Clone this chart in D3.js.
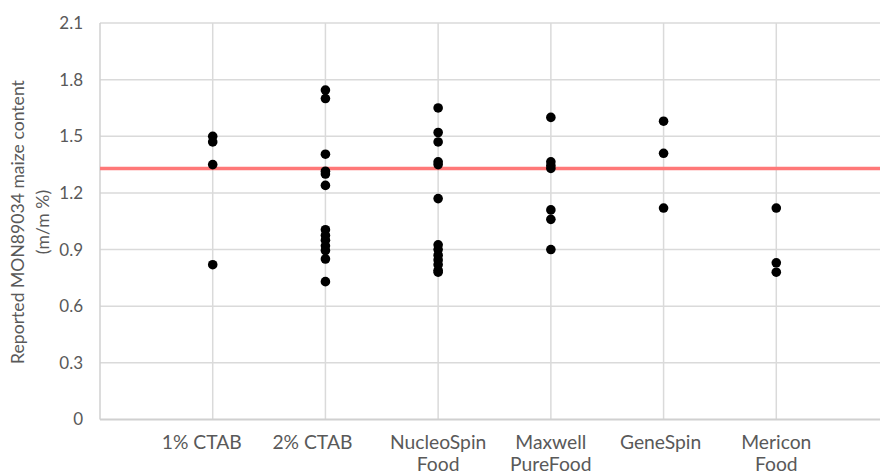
<!DOCTYPE html>
<html>
<head>
<meta charset="utf-8">
<script src="https://cdn.jsdelivr.net/npm/d3@7"></script>
<style>
  html, body { margin: 0; padding: 0; background: #fff; }
  svg { display: block; }
  text { font-family: Lato, "Open Sans", sans-serif; fill: #595959; }
</style>
</head>
<body>
<svg id="chart" width="880" height="475"></svg>
<script>
// ---- data ----
const categories = [
  ["1% CTAB"],
  ["2% CTAB"],
  ["NucleoSpin", "Food"],
  ["Maxwell", "PureFood"],
  ["GeneSpin"],
  ["Mericon", "Food"]
];
const ctab1 = [1.50, 1.47, 1.35, 0.82];
const ctab2 = [1.745, 1.70, 1.405, 1.315, 1.30, 1.24, 1.005, 0.975, 0.95, 0.92, 0.895, 0.85, 0.73];
const nucleoSpin = [1.65, 1.52, 1.47, 1.365, 1.35, 1.17, 0.925, 0.90, 0.87, 0.845, 0.82, 0.79, 0.78];
const maxwell = [1.60, 1.365, 1.345, 1.33, 1.11, 1.06, 0.90];
const geneSpin = [1.58, 1.41, 1.12];
const mericon = [1.12, 0.83, 0.78];
const seriesValues = [ctab1, ctab2, nucleoSpin, maxwell, geneSpin, mericon];
const referenceValue = 1.33;
const yTicks = [0, 0.3, 0.6, 0.9, 1.2, 1.5, 1.8, 2.1];
const yTitle = ["Reported MON89034 maize content", "(m/m %)"];

// ---- scales ----
const svg = d3.select("#chart");
const W = 880, H = 475;
const plotLeft = 100, plotTop = 23, plotBottom = 419.5;
const x = d3.scaleLinear().domain([0, 7]).range([plotLeft, 889]);
const y = d3.scaleLinear().domain([0, 2.1]).range([plotBottom, plotTop]);

svg.append("rect").attr("width", W).attr("height", H).attr("fill", "#fff");

// horizontal gridlines
svg.append("g").selectAll("line").data(yTicks.filter(d => d > 0)).join("line")
  .attr("x1", plotLeft).attr("x2", W)
  .attr("y1", d => y(d)).attr("y2", d => y(d))
  .attr("stroke", "#dadada").attr("stroke-width", 1.5);

// vertical gridlines at categories
svg.append("g").selectAll("line").data(d3.range(1, 7)).join("line")
  .attr("x1", d => x(d)).attr("x2", d => x(d))
  .attr("y1", y(2.1)).attr("y2", y(0))
  .attr("stroke", "#dadada").attr("stroke-width", 1.5);

// axis lines
svg.append("line").attr("x1", plotLeft).attr("x2", plotLeft)
  .attr("y1", y(2.1)).attr("y2", y(0))
  .attr("stroke", "#d0d0d0").attr("stroke-width", 1.5);
svg.append("line").attr("x1", plotLeft).attr("x2", W)
  .attr("y1", y(0)).attr("y2", y(0))
  .attr("stroke", "#d0d0d0").attr("stroke-width", 2);

// y tick labels via axis
const yAxis = d3.axisLeft(y).tickValues(yTicks)
  .tickFormat(d => d === 0 ? "0" : d3.format(".1f")(d))
  .tickSize(0).tickPadding(17);
const yg = svg.append("g").attr("transform", `translate(${plotLeft},0)`).call(yAxis);
yg.select(".domain").remove();
yg.selectAll("text").style("font-size", "17px").attr("fill", "#595959")
  .style("font-family", "Lato, sans-serif");

// y title
const yt = svg.append("text")
  .attr("transform", `translate(0,222) rotate(-90)`)
  .attr("text-anchor", "middle")
  .style("font-size", "17.6px");
yt.selectAll("tspan").data(yTitle).join("tspan")
  .attr("x", 0).attr("y", (d, i) => 24 + i * 25)
  .text(d => d);

// category labels (the CTAB labels sit slightly left of their gridline in the source)
const labelShift = [-11, -13, 0, 0, -3, 0];
const cg = svg.append("g");
categories.forEach((lines, i) => {
  const t = cg.append("text").attr("text-anchor", "middle")
    .style("font-size", "19.3px");
  t.selectAll("tspan").data(lines).join("tspan")
    .attr("x", x(i + 1) + labelShift[i]).attr("y", (d, j) => 449 + j * 22)
    .text(d => d);
});

// reference line
svg.append("line").attr("x1", plotLeft).attr("x2", W)
  .attr("y1", y(referenceValue)).attr("y2", y(referenceValue))
  .attr("stroke", "#ff7878").attr("stroke-width", 3.5);

// points
const pts = [];
seriesValues.forEach((vals, i) => vals.forEach(v => pts.push({c: i + 1, v})));
svg.append("g").selectAll("circle").data(pts).join("circle")
  .attr("cx", d => x(d.c)).attr("cy", d => y(d.v))
  .attr("r", 4.8).attr("fill", "#000");
</script>
</body>
</html>
